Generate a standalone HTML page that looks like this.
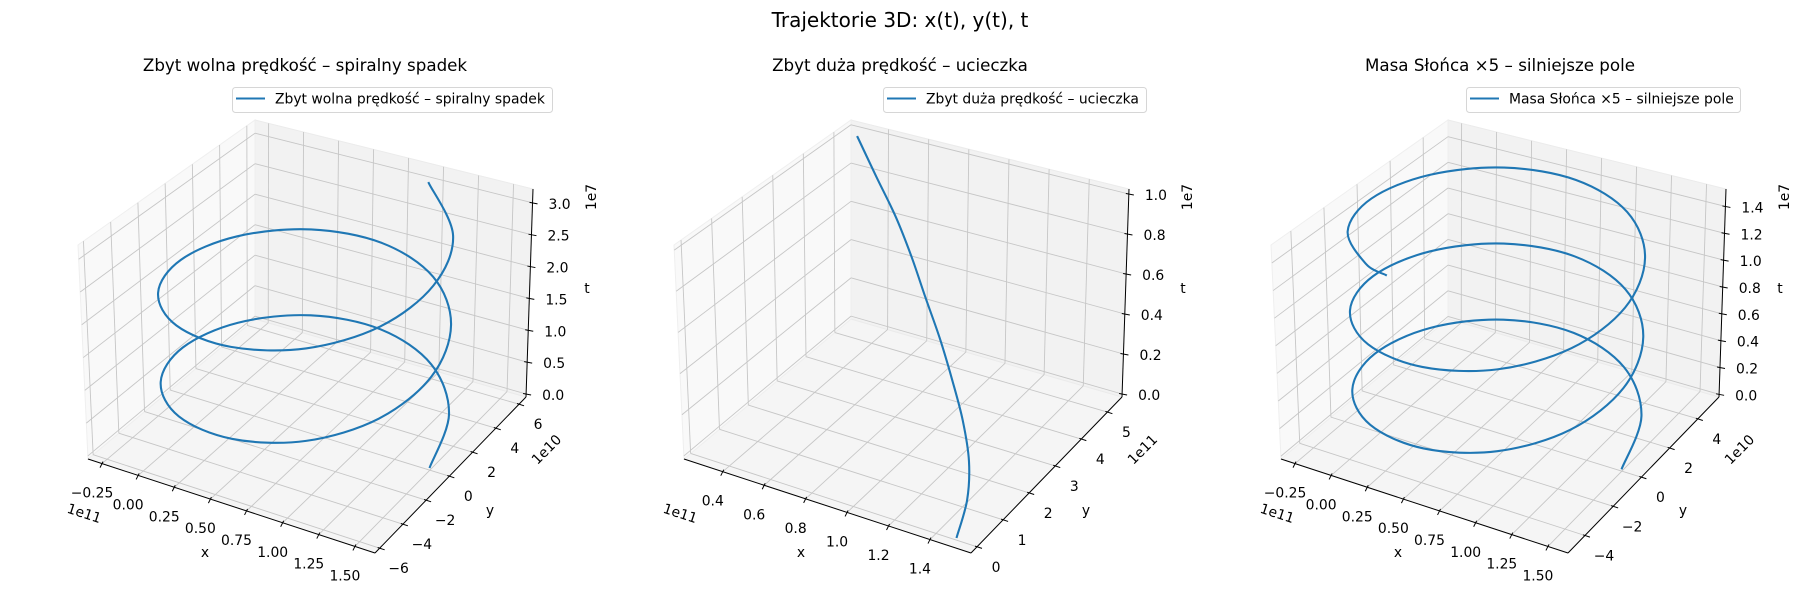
<!DOCTYPE html>
<html>
<head>
<meta charset="utf-8">
<style>
  html, body { margin: 0; padding: 0; background: #ffffff; }
  svg { display: block; font-family: "DejaVu Sans", "Liberation Sans", sans-serif; }
</style>
</head>
<body>
<svg id="chart" width="1800" height="600" viewBox="0 0 1800 600" xmlns="http://www.w3.org/2000/svg">
  <rect x="0" y="0" width="1800" height="600" fill="#ffffff"></rect>
  <text x="900" y="27" font-size="20" text-anchor="middle" fill="#000">Trajektorie 3D: x(t), y(t), t</text>
</svg>
<script>
// ---------- data (x in 1e11 m, y in 1e10 / 1e11 m, t in 1e7 s) ----------
const slowX = [1.5,1.383,1.063,0.625,0.188,-0.133,-0.25,-0.133,0.188,0.625,1.063,1.383,
               1.5,1.383,1.063,0.625,0.188,-0.133,-0.25,-0.133,0.188,0.625,1.063,1.383,
               1.5,1.383,1.0];
const slowY = [0,3.0,5.2,6.0,5.2,3.0,0,-3.0,-5.2,-6.0,-5.2,-3.0,
               0,3.0,5.2,6.0,5.2,3.0,0,-3.0,-5.2,-6.0,-5.2,-3.0,
               0,3.0,5.42];
const slowT = [0,0.1952,0.3689,0.5055,0.5992,0.6557,0.6908,0.7259,0.7825,0.8761,1.0128,1.1866,
               1.3817,1.5769,1.7506,1.8872,1.9809,2.0374,2.0725,2.1076,2.1642,2.2578,2.3945,2.5683,
               2.7634,2.9586,3.1566];

const fastT = [0,0.1,0.2,0.3,0.4,0.5,0.6,0.7,0.8,0.9,1.0];
const fastX = [1.5,1.48,1.42,1.32,1.2,1.07,0.93,0.79,0.64,0.47,0.30];
const fastY = [0,0.54,1.07,1.6,2.11,2.63,3.14,3.66,4.17,4.68,5.2];

const heavyX = [1.5,1.383,1.063,0.625,0.188,-0.133,-0.25,-0.133,0.188,0.625,1.063,1.383,
                1.5,1.383,1.063,0.625,0.188,-0.133,-0.25,-0.133,0.188,0.625,1.063,1.383,
                1.5,1.383,1.063,0.625,0.188,-0.133,-0.25,-0.133,0.188,0.369];
const heavyY = [0,2.5,4.33,5,4.33,2.5,0,-2.5,-4.33,-5,-4.33,-2.5,
                0,2.5,4.33,5,4.33,2.5,0,-2.5,-4.33,-5,-4.33,-2.5,
                0,2.5,4.33,5,4.33,2.5,0,-2.5,-4.33,-4.78];
const heavyT = [0,0.0844,0.1592,0.2172,0.2559,0.2779,0.2903,0.3026,0.3246,0.3633,0.4213,0.4961,
                0.5805,0.6649,0.7397,0.7977,0.8364,0.8584,0.8708,0.8831,0.9051,0.9438,1.0018,1.0766,
                1.1610,1.2454,1.3202,1.3782,1.4169,1.4389,1.4513,1.4636,1.4856,1.5];

// tick values
const ticksX13 = [-0.25,0,0.25,0.5,0.75,1.0,1.25,1.5];
const ticksY1 = [-6,-4,-2,0,2,4,6];
const ticksZ1 = [0,0.5,1.0,1.5,2.0,2.5,3.0];
const ticksX2 = [0.4,0.6,0.8,1.0,1.2,1.4];
const ticksY2 = [0,1,2,3,4,5];
const ticksZ2 = [0,0.2,0.4,0.6,0.8,1.0];
const ticksY3 = [-4,-2,0,2,4];
const ticksZ3 = [0,0.2,0.4,0.6,0.8,1.0,1.2,1.4];

// ---------- geometry ----------
const SVGNS = "http://www.w3.org/2000/svg";
const svg = document.getElementById('chart');
const BOX = {
  c000:[88,459], c100:[375,553], c110:[526,397], c010:[255,319],
  c001:[78,245], c101:[378,331], c111:[533,189], c011:[255,120]
};
function lerp(a,b,t){ return [a[0]+(b[0]-a[0])*t, a[1]+(b[1]-a[1])*t]; }
function proj(ox,u,v,w){
  const b0 = lerp(lerp(BOX.c000,BOX.c100,u), lerp(BOX.c010,BOX.c110,u), v);
  const b1 = lerp(lerp(BOX.c001,BOX.c101,u), lerp(BOX.c011,BOX.c111,u), v);
  const p = lerp(b0,b1,w);
  return [p[0]+ox, p[1]];
}
function mk(tag, attrs, parent){
  const el = document.createElementNS(SVGNS, tag);
  for (const k in attrs) el.setAttribute(k, attrs[k]);
  (parent || svg).appendChild(el);
  return el;
}
function pts(arr){ return arr.map(p => p[0].toFixed(1)+','+p[1].toFixed(1)).join(' '); }
function fmt(v, d){ const s = v.toFixed(d); return v < 0 ? '\u2212' + s.slice(1) : s; }

function drawPanel(cfg){
  const g = mk('g', {});
  
  
  const ox = cfg.ox;
  const sx = v => (v - cfg.xlim[0]) / (cfg.xlim[1] - cfg.xlim[0]);
  const sy = v => (v - cfg.ylim[0]) / (cfg.ylim[1] - cfg.ylim[0]);
  const sz = v => (v - cfg.zlim[0]) / (cfg.zlim[1] - cfg.zlim[0]);
  const P = (u,v,w) => proj(ox,u,v,w);

  const floor = mk('polygon', {points: pts([P(0,0,0),P(1,0,0),P(1,1,0),P(0,1,0)]), fill:'#f5f5f5', stroke:'#ececec', 'stroke-width':1}, g);
  
  
  const back = mk('polygon', {points: pts([P(0,1,0),P(1,1,0),P(1,1,1),P(0,1,1)]), fill:'#f2f2f2', stroke:'#ebebeb', 'stroke-width':1}, g);
  
  
  const left = mk('polygon', {points: pts([P(0,0,0),P(0,1,0),P(0,1,1),P(0,0,1)]), fill:'#f9f9f9', stroke:'#efefef', 'stroke-width':1}, g);
  
  

  const gridStyle = {stroke:'#c6c6c6', 'stroke-width':0.9, fill:'none'};
  const line = (a,b,name) => {
    const l = mk('line', Object.assign({x1:a[0],y1:a[1],x2:b[0],y2:b[1]}, gridStyle), g);
    
    
    return l;
  };
  cfg.xticks.forEach(t => {
    const u = sx(t);
    line(P(u,0,0), P(u,1,0), 'x-gridline');
    line(P(u,1,0), P(u,1,1), 'x-gridline');
  });
  cfg.yticks.forEach(t => {
    const v = sy(t);
    line(P(0,v,0), P(1,v,0), 'y-gridline');
    line(P(0,v,0), P(0,v,1), 'y-gridline');
  });
  cfg.zticks.forEach(t => {
    const w = sz(t);
    line(P(0,1,w), P(1,1,w), 'z-gridline');
    line(P(0,0,w), P(0,1,w), 'z-gridline');
  });

  const axStyle = {stroke:'#000', 'stroke-width':1};
  const ax = (a,b,name) => {
    const l = mk('line', Object.assign({x1:a[0],y1:a[1],x2:b[0],y2:b[1]}, axStyle), g);
    
    
  };
  ax(P(0,0,0), P(1,0,0), 'x-axis-line');
  ax(P(1,0,0), P(1,1,0), 'y-axis-line');
  ax(P(1,1,0), P(1,1,1), 'z-axis-line');

  const txt = (x,y,s,anchor,name,extra) => {
    const t = mk('text', Object.assign({x:x, y:y, 'font-size':13.9, 'text-anchor':anchor, fill:'#000', 'dominant-baseline':'central'}, extra||{}), g);
    t.textContent = s;
    
    
    return t;
  };

  cfg.xticks.forEach((t,i) => {
    const p = P(sx(t),0,0);
    ax([p[0]+1,p[1]-2],[p[0]-2,p[1]+4],'x-tick');
    txt(p[0]-10, p[1]+30, cfg.xlabels[i], 'middle', 'x-tick-label');
  });
  cfg.yticks.forEach((t,i) => {
    const p = P(1,sy(t),0);
    ax([p[0]-2,p[1]-0.7],[p[0]+5,p[1]+1.6],'y-tick');
    txt(p[0]+19, p[1]+21, cfg.ylabels[i], 'middle', 'y-tick-label');
  });
  cfg.zticks.forEach((t,i) => {
    const p = P(1,1,sz(t));
    ax([p[0]-3,p[1]-0.5],[p[0]+5,p[1]+1],'z-tick');
    txt(p[0]+16, p[1]+2, cfg.zlabels[i], 'start', 'z-tick-label');
  });

  txt(ox+205, 553, 'x', 'middle', 'x-axis-title');
  txt(ox+490, 511, 'y', 'middle', 'y-axis-title');
  txt(ox+587, 289, 't', 'middle', 'z-axis-title');
  txt(ox+84, 514, cfg.xoff, 'middle', 'x-offset-label', {transform:'rotate(18 '+(ox+84)+' 514)'});
  txt(ox+547, 450, cfg.yoff, 'middle', 'y-offset-label', {transform:'rotate(-45 '+(ox+547)+' 450)'});
  txt(ox+592, 197, cfg.zoff, 'middle', 'z-offset-label', {transform:'rotate(-90 '+(ox+592)+' 197)'});

  const sp = cfg.xs.map((xv,i) => P(sx(xv), sy(cfg.ys[i]), sz(cfg.ts[i])));
  let d = 'M' + sp[0][0].toFixed(2) + ' ' + sp[0][1].toFixed(2);
  for (let i = 0; i < sp.length - 1; i++) {
    const p0 = sp[Math.max(0,i-1)], p1 = sp[i], p2 = sp[i+1], p3 = sp[Math.min(sp.length-1,i+2)];
    const c1 = [p1[0]+(p2[0]-p0[0])/6, p1[1]+(p2[1]-p0[1])/6];
    const c2 = [p2[0]-(p3[0]-p1[0])/6, p2[1]-(p3[1]-p1[1])/6];
    d += ' C' + c1[0].toFixed(2)+' '+c1[1].toFixed(2)+' '+c2[0].toFixed(2)+' '+c2[1].toFixed(2)+' '+p2[0].toFixed(2)+' '+p2[1].toFixed(2);
  }
  const path = mk('path', {d:d, fill:'none', stroke:'#1f77b4', 'stroke-width':2.1, 'stroke-linejoin':'round', 'stroke-linecap':'square'}, g);
  
  

  const title = mk('text', {x:cfg.titleX, y:71, 'font-size':16.7, 'text-anchor':'middle', fill:'#000'}, g);
  title.textContent = cfg.title;
  
  

  const lg = mk('g', {}, g);
  
  
  const L = cfg.legend;
  const box = mk('rect', {x:L[0]+0.5, y:87.5, width:L[1]-L[0], height:25, rx:3, fill:'#fff', 'fill-opacity':0.8, stroke:'#d6d6d6', 'stroke-width':1}, lg);
  
  
  const sw = mk('line', {x1:L[0]+4, y1:98.5, x2:L[0]+33, y2:98.5, stroke:'#1f77b4', 'stroke-width':2.1}, lg);
  
  
  const lt = mk('text', {x:L[0]+43, y:99.5, 'font-size':13.9, fill:'#000', 'dominant-baseline':'central'}, lg);
  lt.textContent = cfg.title;
  
  
}

drawPanel({
  name:'panel-slow', ox:0, xlim:[-0.347,1.639], ylim:[-6.4,6.6], zlim:[-0.047,3.217],
  xticks:ticksX13, xlabels:ticksX13.map(v=>fmt(v,2)),
  yticks:ticksY1, ylabels:ticksY1.map(v=>fmt(v,0)),
  zticks:ticksZ1, zlabels:ticksZ1.map(v=>fmt(v,1)),
  xoff:'1e11', yoff:'1e10', zoff:'1e7',
  xs:slowX, ys:slowY, ts:slowT,
  title:'Zbyt wolna pr\u0119dko\u015b\u0107 \u2013 spiralny spadek', titleX:305, legend:[232,552]
});
drawPanel({
  name:'panel-fast', ox:596, xlim:[0.213,1.598], ylim:[-0.23,5.56], zlim:[-0.015,1.025],
  xticks:ticksX2, xlabels:ticksX2.map(v=>fmt(v,1)),
  yticks:ticksY2, ylabels:ticksY2.map(v=>fmt(v,0)),
  zticks:ticksZ2, zlabels:ticksZ2.map(v=>fmt(v,1)),
  xoff:'1e11', yoff:'1e11', zoff:'1e7',
  xs:fastX, ys:fastY, ts:fastT,
  title:'Zbyt du\u017ca pr\u0119dko\u015b\u0107 \u2013 ucieczka', titleX:900, legend:[883,1146]
});
drawPanel({
  name:'panel-heavy-sun', ox:1193, xlim:[-0.347,1.639], ylim:[-5.2,5.5], zlim:[-0.02,1.53],
  xticks:ticksX13, xlabels:ticksX13.map(v=>fmt(v,2)),
  yticks:ticksY3, ylabels:ticksY3.map(v=>fmt(v,0)),
  zticks:ticksZ3, zlabels:ticksZ3.map(v=>fmt(v,1)),
  xoff:'1e11', yoff:'1e10', zoff:'1e7',
  xs:heavyX, ys:heavyY, ts:heavyT,
  title:'Masa S\u0142o\u0144ca \u00d75 \u2013 silniejsze pole', titleX:1500, legend:[1466,1740]
});
</script>
</body>
</html>
